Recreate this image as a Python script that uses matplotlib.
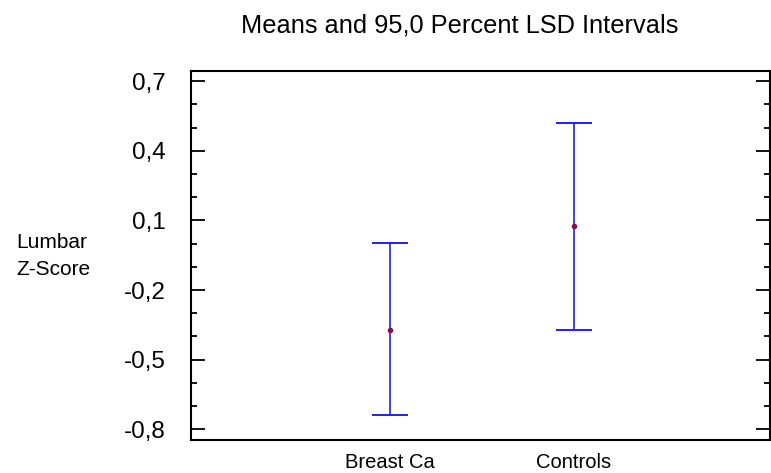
import matplotlib.pyplot as plt
from matplotlib.ticker import MultipleLocator, FixedLocator

plt.rcParams['font.family'] = ['Liberation Sans', 'DejaVu Sans']

groups = ["Breast Ca", "Controls"]
means = [-0.372, 0.076]
lower = [-0.739, -0.370]
upper = [0.001, 0.518]
yticks = [0.7, 0.4, 0.1, -0.2, -0.5, -0.8]
ytick_labels = ["0,7", "0,4", "0,1", "-0,2", "-0,5", "-0,8"]

fig = plt.figure(figsize=(7.71, 4.73), dpi=100)
ax = fig.add_axes([191 / 771, 1 - 440 / 473, 579 / 771, 369 / 473])

xpos = [1, 2]
err = [[m - lo for m, lo in zip(means, lower)], [hi - m for m, hi in zip(means, upper)]]
ax.errorbar(xpos, means, yerr=err, fmt="none", ecolor="#2020f0", elinewidth=1.2,
            capsize=13.2, capthick=1.4)
ax.plot(xpos, means, "o", color="#8b0a50", markersize=3)

ax.set_xlim(-0.086, 3.07)
ax.set_ylim(-0.846, 0.744)
ax.set_xticks(xpos)
ax.set_xticklabels(groups, fontsize=14.5)
ax.tick_params(axis="x", length=0, pad=9)

ax.yaxis.set_major_locator(FixedLocator(yticks))
ax.set_yticklabels(ytick_labels, fontsize=17.5)
ax.yaxis.set_minor_locator(MultipleLocator(0.1))
ax.tick_params(axis="y", which="major", direction="in", length=10, width=1.3,
               right=True, pad=18.5)
ax.tick_params(axis="y", which="minor", direction="in", length=4.5, width=1.3,
               right=True)

for s in ax.spines.values():
    s.set_linewidth(1.5)

fig.text(460 / 771, 1 - 33 / 473, "Means and 95,0 Percent LSD Intervals",
         ha="center", va="baseline", fontsize=18.3)
fig.text(52 / 771, 1 - 248 / 473, "Lumbar", ha="center", va="baseline", fontsize=15)
fig.text(53 / 771, 1 - 275 / 473, "Z-Score", ha="center", va="baseline", fontsize=15)

fig.savefig("out.png", dpi=100)
plt.close(fig)
